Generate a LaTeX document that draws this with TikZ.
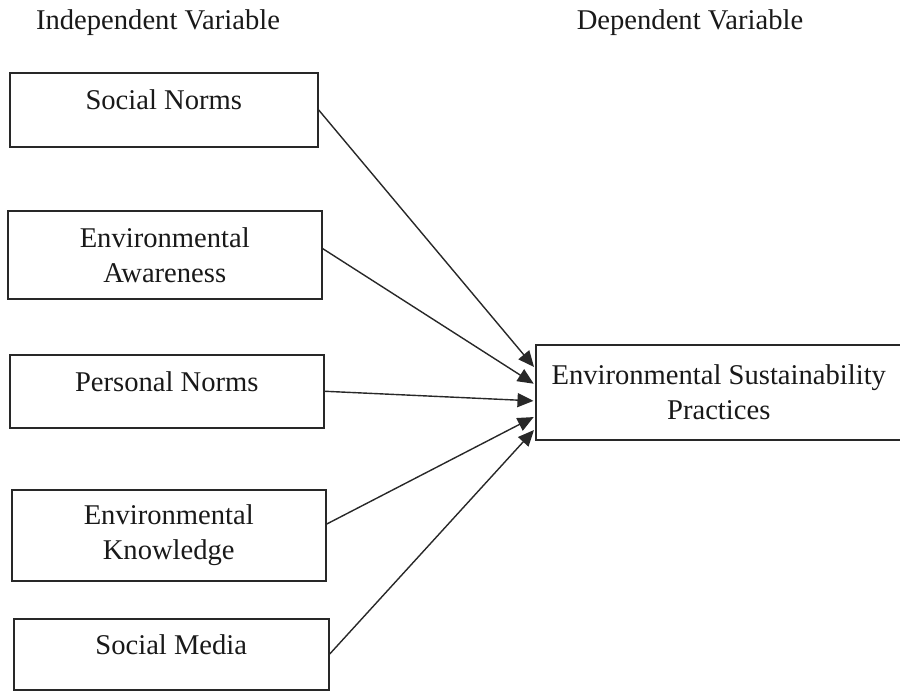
\documentclass[tikz,border=0pt]{standalone}
\usepackage{fontspec}
\setmainfont{Liberation Serif}
\usepackage{xcolor}
\usetikzlibrary{arrows.meta,positioning,calc}
\definecolor{boxline}{RGB}{40,40,40}
\definecolor{textblack}{RGB}{25,25,25}
\tikzset{
  varbox/.style={draw=boxline, line width=1.5pt, align=center,
                 anchor=north west, minimum width=#1, inner sep=0pt,
                 text=textblack, font=\fontsize{28.6}{35}\selectfont},
  varbox/.default=314pt,
  onebox/.style={varbox, text height=#1, text depth=#1},
  hdr/.style   ={text=textblack, font=\fontsize{28.6}{35}\selectfont},
  arr/.style   ={-{Triangle[length=16pt,width=14pt]}, line width=1.4pt,
                 draw=boxline, shorten >=1.5pt},
}
\begin{document}
\begin{tikzpicture}[x=1pt, y=-1pt]
  \useasboundingbox (0,0) rectangle (900,691);

  \node[hdr] (ivh) at (158,23) {Independent Variable};
  \node[hdr] (dvh) at (690,23) {Dependent Variable};

  \node[onebox=37pt, minimum width=308pt] (sn) at (9,72) {Social Norms};
  \node[varbox, minimum height=88pt] (ea) at (7,210)
        {Environmental\\Awareness};
  \node[onebox=36.5pt] (pn) at (9,354) {Personal Norms};
  \node[varbox, minimum height=91pt] (ek) at (11,489)
        {Environmental\\Knowledge};
  \node[onebox=35.5pt, minimum width=315pt] (sm) at (13,618) {Social Media};

  \node[varbox=366pt, minimum height=95pt] (esp) at (535,344)
        {Environmental Sustainability\\Practices};

  \coordinate (t1) at ($(esp.north west)!0.25!(esp.south west)$);
  \coordinate (t2) at ($(esp.north west)!0.42!(esp.south west)$);
  \coordinate (t3) at ($(esp.north west)!0.59!(esp.south west)$);
  \coordinate (t4) at ($(esp.north west)!0.75!(esp.south west)$);
  \coordinate (t5) at ($(esp.north west)!0.88!(esp.south west)$);

  \draw[arr](sn.east)--(t1);
  \draw[arr]($(ea.north east)!0.43!(ea.south east)$)--(t2);
  \draw[arr](pn.east)--(t3);
  \draw[arr]($(ek.north east)!0.38!(ek.south east)$)--(t4);
  \draw[arr](sm.east)--(t5);
\end{tikzpicture}
\end{document}
